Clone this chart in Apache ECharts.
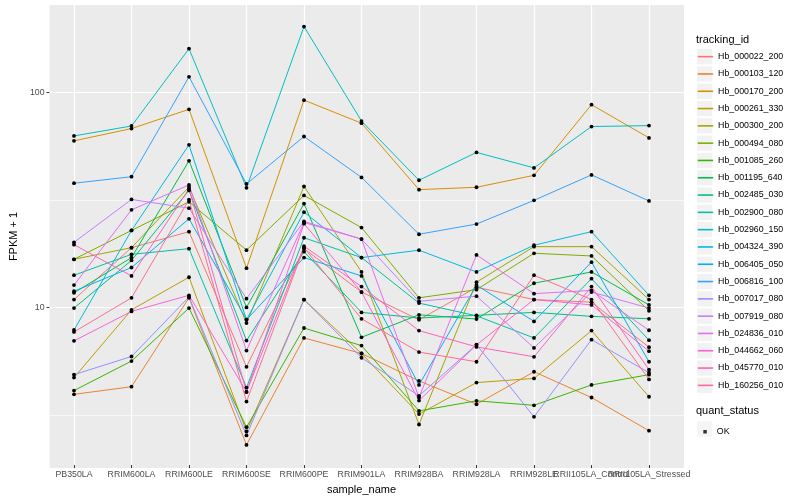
<!DOCTYPE html>
<html><head><meta charset="utf-8">
<script src="https://cdn.jsdelivr.net/npm/echarts@6/dist/echarts.min.js"></script>
<style>html,body{margin:0;padding:0;background:#fff}#c{width:800px;height:500px}</style>
</head><body><div id="c"></div>
<script>
const categories = ['PB350LA','RRIM600LA','RRIM600LE','RRIM600SE','RRIM600PE','RRIM901LA','RRIM928BA','RRIM928LA','RRIM928LE','RRII105LA_Control','RRII105LA_Stressed'];
const trackingIds = ['Hb_000022_200','Hb_000103_120','Hb_000170_200','Hb_000261_330','Hb_000300_200','Hb_000494_080','Hb_001085_260','Hb_001195_640','Hb_002485_030','Hb_002900_080','Hb_002960_150','Hb_004324_390','Hb_006405_050','Hb_006816_100','Hb_007017_080','Hb_007919_080','Hb_024836_010','Hb_044662_060','Hb_045770_010','Hb_160256_010'];
const colors = ['#F8766D','#EA8331','#D89000','#C09B00','#A3A500','#7CAE00','#39B600','#00BB4E','#00BF7D','#00C1A3','#00BFC4','#00BAE0','#00B0F6','#35A2FF','#9590FF','#C77CFF','#E76BF3','#FA62DB','#FF62BC','#FF6C91'];

const Hb_000022_200 = [10.7, 18.7, 22.2, 5.19, 18.5, 11.6, 8.61, 12.2, 10.7, 10.4, 6.41];
const Hb_000103_120 = [3.86, 4.19, 10.9, 2.24, 7.08, 5.99, 4.46, 3.47, 4.92, 3.73, 2.61];
const Hb_000170_200 = [59.0, 67.3, 82.8, 15.0, 91.4, 71.3, 34.9, 35.8, 40.7, 87.0, 60.9];
const Hb_000261_330 = [4.62, 9.58, 13.6, 2.59, 10.7, 5.99, 3.12, 4.38, 4.58, 7.66, 3.76];
const Hb_000300_200 = [16.5, 18.7, 35.9, 8.31, 36.1, 14.4, 2.79, 12.9, 18.9, 18.9, 10.7];
const Hb_000494_080 = [16.5, 22.5, 30.6, 18.2, 32.8, 23.2, 10.9, 11.9, 17.6, 17.1, 9.48];
const Hb_001085_260 = [4.02, 5.52, 9.76, 2.71, 7.88, 6.52, 3.23, 3.60, 3.43, 4.27, 4.77];
const Hb_001195_640 = [11.5, 16.8, 47.6, 9.83, 30.0, 7.13, 9.08, 8.68, 12.75, 14.4, 10.1];
const Hb_002485_030 = [9.76, 16.3, 34.6, 6.88, 17.9, 9.32, 8.77, 9.03, 9.32, 8.93, 8.70];
const Hb_002900_080 = [13.9, 17.4, 18.5, 4.15, 20.8, 16.8, 10.3, 8.98, 7.08, 13.4, 6.91];
const Hb_002960_150 = [62.2, 69.2, 158.9, 35.6, 201.7, 73.0, 38.6, 52.1, 44.1, 68.8, 69.5];
const Hb_004324_390 = [7.71, 22.5, 56.5, 8.61, 27.4, 16.8, 18.2, 14.4, 19.2, 22.2, 11.2];
const Hb_006405_050 = [11.7, 15.1, 25.5, 8.61, 16.8, 13.8, 4.27, 12.5, 8.46, 16.0, 5.48];
const Hb_006816_100 = [37.4, 40.1, 117.4, 37.1, 61.8, 39.8, 21.6, 24.1, 31.1, 40.9, 30.9];
const Hb_007017_080 = [4.77, 5.80, 11.0, 2.48, 10.7, 5.72, 3.80, 6.59, 3.03, 6.95, 4.87];
const Hb_007919_080 = [19.8, 31.4, 28.6, 10.8, 24.8, 20.5, 10.5, 11.1, 6.36, 11.6, 9.76];
const Hb_024836_010 = [12.5, 28.1, 36.7, 6.18, 24.5, 20.5, 3.73, 17.3, 11.4, 11.8, 7.69];
const Hb_044662_060 = [6.86, 9.42, 11.2, 3.96, 24.2, 11.6, 3.61, 6.57, 10.7, 10.1, 6.14];
const Hb_045770_010 = [19.3, 13.8, 35.2, 3.96, 19.0, 12.3, 7.66, 6.43, 5.78, 12.3, 5.03];
const Hb_160256_010 = [7.55, 10.9, 31.3, 3.57, 18.7, 8.70, 6.08, 5.48, 13.9, 10.7, 4.53];

const seriesValues = [Hb_000022_200, Hb_000103_120, Hb_000170_200, Hb_000261_330, Hb_000300_200, Hb_000494_080, Hb_001085_260, Hb_001195_640, Hb_002485_030, Hb_002900_080, Hb_002960_150, Hb_004324_390, Hb_006405_050, Hb_006816_100, Hb_007017_080, Hb_007919_080, Hb_024836_010, Hb_044662_060, Hb_045770_010, Hb_160256_010];

const yTickLabels = [10, 100];
const yMinorBreaks = [3.1623, 31.623];
const yMin = 1.803, yMax = 254.3;
const quantStatus = ['OK'];

const FONT = '"Liberation Sans", Arial, sans-serif';
const chart = echarts.init(document.getElementById('c'), null, {renderer: 'canvas'});

const gridLines = [];
yMinorBreaks.forEach(v => gridLines.push({yAxis: v, lineStyle: {color: '#FFFFFF', width: 0.6, type: 'solid'}}));
yTickLabels.forEach(v => gridLines.push({yAxis: v, lineStyle: {color: '#FFFFFF', width: 1.2, type: 'solid'}}));

const series = [{
  name: '__grid', type: 'line', xAxisIndex: 0, yAxisIndex: 0, data: [[0.5, 10]],
  symbol: 'none', lineStyle: {opacity: 0}, silent: true, z: 1,
  markLine: {silent: true, symbol: 'none', z: 1, animation: false, label: {show: false}, data: gridLines}
}];
trackingIds.forEach((id, i) => {
  series.push({
    name: id, type: 'line', xAxisIndex: 1, yAxisIndex: 1, data: seriesValues[i],
    symbol: 'circle', symbolSize: 3.8, showSymbol: true,
    itemStyle: {color: '#000000'}, lineStyle: {color: colors[i], width: 1},
    emphasis: {disabled: true}, z: 2
  });
});
series.push({name: 'OK', type: 'scatter', xAxisIndex: 1, yAxisIndex: 1, data: [], symbol: 'rect', itemStyle: {color: '#000'}});

const option = {
  animation: false,
  textStyle: {fontFamily: FONT},
  title: [
    {text: 'tracking_id', left: 696, top: 34, padding: 0, textStyle: {fontSize: 11, fontWeight: 'normal', color: '#000', fontFamily: FONT}},
    {text: 'quant_status', left: 696, top: 405.5, padding: 0, textStyle: {fontSize: 11, fontWeight: 'normal', color: '#000', fontFamily: FONT}}
  ],
  grid: [
    {left: 40, right: 116, top: 5, bottom: 32, show: true, backgroundColor: '#EBEBEB', borderWidth: 0},
    {left: 45.25, right: 122.25, top: 5, bottom: 32}
  ],
  xAxis: [
    {gridIndex: 0, type: 'value', min: 0, max: 1, show: false, splitLine: {show: false}},
    {gridIndex: 1, type: 'category', data: categories, boundaryGap: true,
     axisLine: {show: false},
     axisTick: {show: true, alignWithLabel: true, length: 3, lineStyle: {color: '#333333', width: 1}},
     axisLabel: {interval: 0, hideOverlap: false, fontSize: 8.8, color: '#4D4D4D', fontFamily: FONT, margin: 5},
     splitLine: {show: true, alignWithLabel: true, lineStyle: {color: '#FFFFFF', width: 1.2}},
     name: 'sample_name', nameLocation: 'middle', nameGap: 14,
     nameTextStyle: {fontSize: 11, color: '#000', fontFamily: FONT}}
  ],
  yAxis: [
    {gridIndex: 0, type: 'log', logBase: 10, min: yMin, max: yMax,
     axisLine: {show: false},
     axisTick: {show: true, length: 3, customValues: yTickLabels, lineStyle: {color: '#333333', width: 1}},
     axisLabel: {customValues: yTickLabels, fontSize: 8.8, color: '#4D4D4D', fontFamily: FONT, margin: 5,
       formatter: v => (Math.abs(v - 10) < 1e-6 || Math.abs(v - 100) < 1e-6) ? String(Math.round(v)) : ''},
     splitLine: {show: false}, minorSplitLine: {show: false},
     name: 'FPKM + 1', nameLocation: 'middle', nameGap: 21, nameRotate: 90,
     nameTextStyle: {fontSize: 11, color: '#000', fontFamily: FONT}},
    {gridIndex: 1, type: 'log', logBase: 10, min: yMin, max: yMax, show: false, splitLine: {show: false}}
  ],
  legend: [
    {data: trackingIds, orient: 'vertical', left: 697, top: 49, padding: 0, itemWidth: 15.3, itemHeight: 15.3, itemGap: 2,
     icon: 'rect', itemStyle: {color: '#F2F2F2', borderWidth: 0}, formatter: () => '', selectedMode: false,
     textStyle: {fontSize: 8.8, fontFamily: FONT}},
    {data: trackingIds, orient: 'vertical', left: 697, top: 49, padding: 0, itemWidth: 15.3, itemHeight: 15.3, itemGap: 2,
     itemStyle: {opacity: 0}, lineStyle: {width: 1.6}, selectedMode: false,
     textStyle: {fontSize: 8.8, color: '#000', fontFamily: FONT, lineHeight: 15.3}},
    {data: quantStatus, orient: 'vertical', left: 697, top: 421.3, padding: 0, itemWidth: 15.3, itemHeight: 15.3,
     icon: 'rect', itemStyle: {color: '#F2F2F2', borderWidth: 0}, formatter: () => '', selectedMode: false,
     textStyle: {fontSize: 8.8, fontFamily: FONT}},
    {data: quantStatus, orient: 'vertical', left: 703.3, top: 427.25, padding: 0, itemWidth: 3.5, itemHeight: 3.5,
     icon: 'rect', itemStyle: {color: '#000'}, selectedMode: false,
     textStyle: {fontSize: 8.8, color: '#000', fontFamily: FONT, padding: [0, 0, 0, 5]}}
  ],
  series: series
};
chart.setOption(option);
</script>
</body></html>
